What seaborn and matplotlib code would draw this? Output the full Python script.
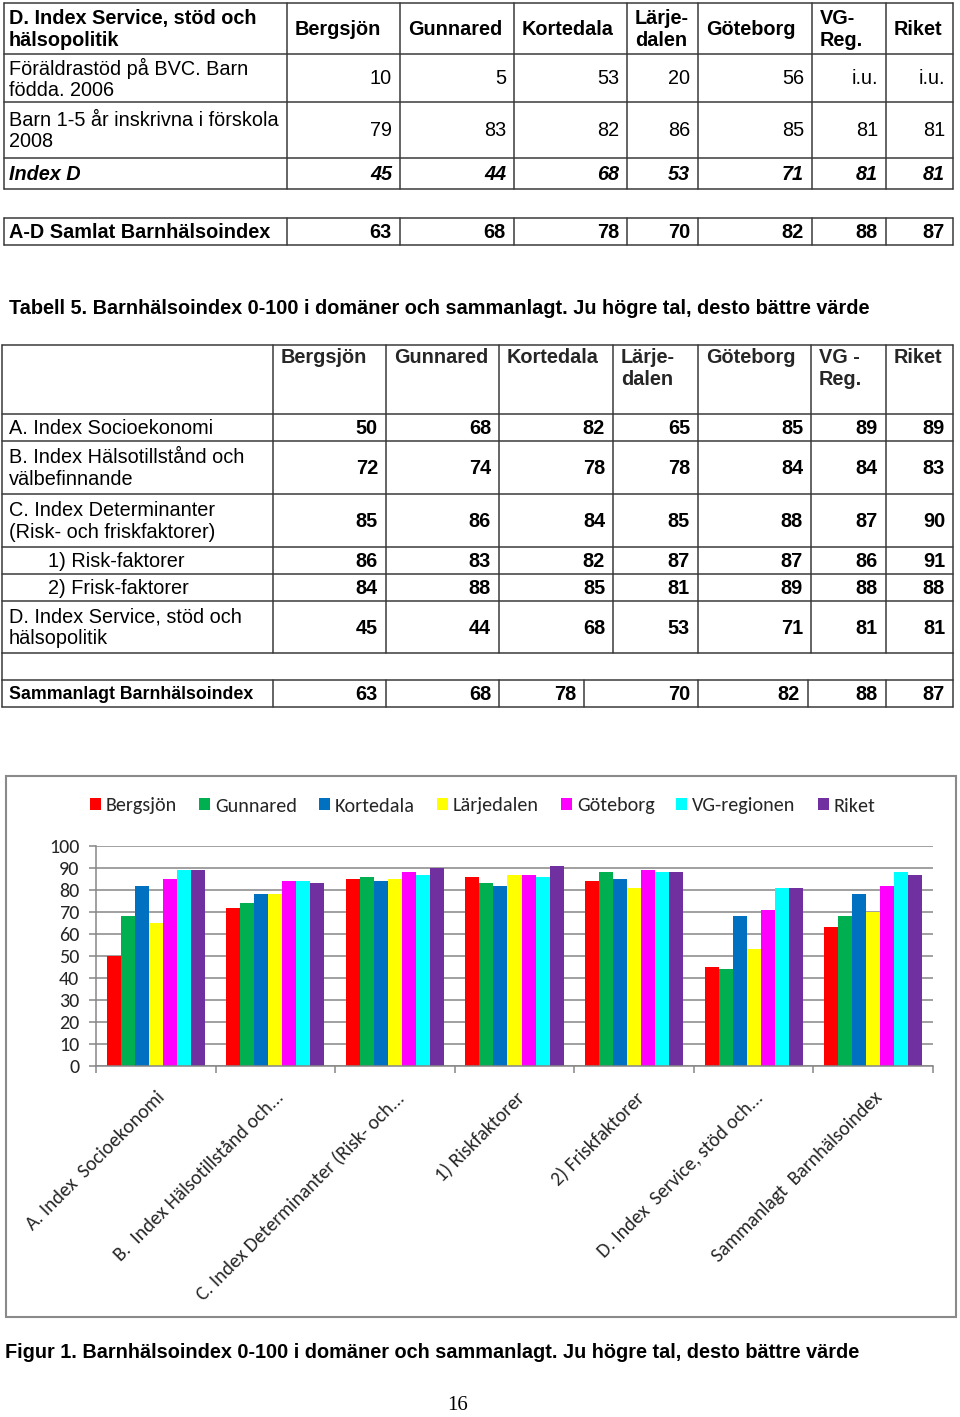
import matplotlib
matplotlib.use("Agg")
import matplotlib.pyplot as plt
from matplotlib.lines import Line2D
from matplotlib.patches import Rectangle
import seaborn as sns
import pandas as pd

# ---------------- data ----------------
regions_top = ["Bergsjön", "Gunnared", "Kortedala", "Lärje-\ndalen", "Göteborg", "VG-\nReg.", "Riket"]
top_header = "D. Index Service, stöd och\nhälsopolitik"
top_row_labels = ["Föräldrastöd på BVC. Barn\nfödda. 2006", "Barn 1-5 år inskrivna i förskola\n2008", "Index D"]
foraldrastod = ["10", "5", "53", "20", "56", "i.u.", "i.u."]
forskola = ["79", "83", "82", "86", "85", "81", "81"]
index_d_top = ["45", "44", "68", "53", "71", "81", "81"]
samlat_label = "A-D Samlat Barnhälsoindex"
samlat_top = ["63", "68", "78", "70", "82", "88", "87"]

table_caption = "Tabell 5. Barnhälsoindex 0-100 i domäner och sammanlagt. Ju högre tal, desto bättre värde"
regions_mid = ["Bergsjön", "Gunnared", "Kortedala", "Lärje-\ndalen", "Göteborg", "VG -\nReg.", "Riket"]
mid_row_labels = ["A. Index Socioekonomi", "B. Index Hälsotillstånd och\nvälbefinnande",
                  "C. Index Determinanter\n(Risk- och friskfaktorer)", "1) Risk-faktorer",
                  "2) Frisk-faktorer", "D. Index Service, stöd och\nhälsopolitik"]
mid_total_label = "Sammanlagt Barnhälsoindex"

categories = ["A. Index  Socioekonomi", "B.  Index Hälsotillstånd och...",
              "C. Index Determinanter (Risk- och...", "1) Riskfaktorer", "2) Friskfaktorer",
              "D. Index  Service, stöd och...", "Sammanlagt  Barnhälsoindex"]
series_names = ["Bergsjön", "Gunnared", "Kortedala", "Lärjedalen", "Göteborg", "VG-regionen", "Riket"]
bergsjon = [50, 72, 85, 86, 84, 45, 63]
gunnared = [68, 74, 86, 83, 88, 44, 68]
kortedala = [82, 78, 84, 82, 85, 68, 78]
larjedalen = [65, 78, 85, 87, 81, 53, 70]
goteborg = [85, 84, 88, 87, 89, 71, 82]
vg_regionen = [89, 84, 87, 86, 88, 81, 88]
riket = [89, 83, 90, 91, 88, 81, 87]
series_values = [bergsjon, gunnared, kortedala, larjedalen, goteborg, vg_regionen, riket]
colors = ["#FF0000", "#00B050", "#0070C0", "#FFFF00", "#FF00FF", "#00FFFF", "#7030A0"]

figure_caption = "Figur 1. Barnhälsoindex 0-100 i domäner och sammanlagt. Ju högre tal, desto bättre värde"
page_number = "16"

# ---------------- figure ----------------
sns.set_theme(style="white")
plt.rcParams["font.family"] = ["Liberation Sans", "DejaVu Sans"]

W, H = 960, 1417
fig = plt.figure(figsize=(W / 100, H / 100), dpi=100)
fig.patch.set_facecolor("white")

def fx(x):
    return x / W

def fy(y):
    return 1 - y / H

LC = "#3a3a3a"
LW = 1.1
LS = 1.17

def hline(x0, x1, y, color=LC, lw=LW):
    fig.add_artist(Line2D([fx(x0), fx(x1)], [fy(y), fy(y)], color=color, lw=lw, transform=fig.transFigure))

def vline(x, y0, y1, color=LC, lw=LW):
    fig.add_artist(Line2D([fx(x), fx(x)], [fy(y0), fy(y1)], color=color, lw=lw, transform=fig.transFigure))

def txt(x, y, s, ha="left", va="center", size=14.3, weight="normal", style="normal", ls=LS, family=None):
    kw = {}
    if family is not None:
        kw["family"] = family
    fig.text(fx(x), fy(y), s, ha=ha, va=va, fontsize=size, fontweight=weight, fontstyle=style,
             linespacing=ls, color="black", **kw)

FS = 14.3

# ---- top table ----
cols_top = [4, 287, 400, 514, 627, 698, 812, 886, 953]
rows_top = [3, 54, 102, 158, 189]
for y in rows_top:
    hline(cols_top[0], cols_top[-1], y)
for x in cols_top:
    vline(x, rows_top[0], rows_top[-1])
txt(9, (rows_top[0] + rows_top[1]) / 2 + 1, top_header, weight="bold", size=FS)
for i, r in enumerate(regions_top):
    txt(cols_top[i + 1] + 8, (rows_top[0] + rows_top[1]) / 2 + 1, r, weight="bold", size=FS)
row_vals = [foraldrastod, forskola, index_d_top]
for j, (lab, vals) in enumerate(zip(top_row_labels, row_vals)):
    yc = (rows_top[j + 1] + rows_top[j + 2]) / 2 + 1
    if j == 2:
        txt(9, yc, lab, weight="bold", style="italic", size=FS)
    else:
        txt(9, yc, lab, size=FS)
    for i, v in enumerate(vals):
        if j == 2:
            txt(cols_top[i + 2] - 8, yc, v, ha="right", weight="bold", style="italic", size=FS)
        else:
            txt(cols_top[i + 2] - 8, yc, v, ha="right", size=FS)

rows_s = [218, 245]
for y in rows_s:
    hline(cols_top[0], cols_top[-1], y)
for x in cols_top:
    vline(x, rows_s[0], rows_s[1])
txt(9, sum(rows_s) / 2 + 1, samlat_label, weight="bold", size=FS)
for i, v in enumerate(samlat_top):
    txt(cols_top[i + 2] - 8, sum(rows_s) / 2 + 1, v, ha="right", weight="bold", size=FS)

# ---- caption ----
txt(9, 308, table_caption, weight="bold", size=FS)

# ---- middle table ----
cols_mid = [2, 273, 386, 499, 613, 698, 811, 886, 953]
cols_last = [2, 273, 386, 499, 584, 698, 808, 886, 953]
rows_mid = [345, 414, 441, 494, 547, 574, 601, 653, 680, 707]
for y in rows_mid:
    hline(cols_mid[0], cols_mid[-1], y)
for x in cols_mid:
    vline(x, rows_mid[0], rows_mid[7])
vline(cols_mid[0], rows_mid[7], rows_mid[8])
vline(cols_mid[-1], rows_mid[7], rows_mid[8])
for x in cols_last:
    vline(x, rows_mid[8], rows_mid[9])
for i, r in enumerate(regions_mid):
    fig.text(fx(cols_mid[i + 1] + 8), fy(rows_mid[0] + 3), r, ha="left", va="top",
             fontsize=FS, fontweight="bold", linespacing=1.2)
for j, lab in enumerate(mid_row_labels):
    yc = (rows_mid[j + 1] + rows_mid[j + 2]) / 2 + 1
    xl = 48 if j in (3, 4) else 9
    txt(xl, yc, lab, size=FS)
    for i in range(7):
        txt(cols_mid[i + 2] - 8, yc, str(series_values[i][j]), ha="right", weight="bold", size=FS)
yc = (rows_mid[8] + rows_mid[9]) / 2 + 1
txt(9, yc, mid_total_label, weight="bold", size=12.8)
for i in range(7):
    txt(cols_last[i + 2] - 8, yc, str(series_values[i][6]), ha="right", weight="bold", size=FS)

# ---- chart ----
fig.add_artist(Rectangle((fx(6), fy(1317)), fx(956) - fx(6), fy(776) - fy(1317),
                         transform=fig.transFigure, fill=False, edgecolor="#8a8a8a", lw=1.5))

rows = []
for s, vals in zip(series_names, series_values):
    for c, v in zip(categories, vals):
        rows.append({"Kategori": c, "Område": s, "Värde": v})
df = pd.DataFrame(rows)

ax = fig.add_axes([fx(96), fy(1066), fx(933) - fx(96), fy(846) - fy(1066)])
chart_font = ["Carlito", "Lato", "DejaVu Sans"]
sns.barplot(data=df, x="Kategori", y="Värde", hue="Område", order=categories, hue_order=series_names,
            palette=colors, saturation=1, width=0.82, gap=0, errorbar=None, ax=ax, linewidth=0)
ax.set_xlim(-0.5, len(categories) - 0.5)
ax.set_ylim(0, 100)
ax.set_yticks(range(0, 101, 10))
ax.set_xlabel("")
ax.set_ylabel("")
ax.set_facecolor("white")
ax.set_axisbelow(True)
ax.yaxis.grid(True, color="#868686", lw=1.1)
ax.xaxis.grid(False)
for side in ["top", "right"]:
    ax.spines[side].set_visible(False)
for side in ["left", "bottom"]:
    ax.spines[side].set_color("#868686")
    ax.spines[side].set_linewidth(1.1)
ax.tick_params(axis="y", length=5, color="#868686", width=1.1, pad=7, left=True)
ax.set_xticks(range(len(categories)))
ax.set_xticks([i - 0.5 for i in range(len(categories) + 1)], minor=True)
ax.tick_params(axis="x", which="major", length=0, pad=16)
ax.tick_params(axis="x", which="minor", length=5, color="#868686", width=1.1, bottom=True)
ax.set_yticklabels([str(t) for t in range(0, 101, 10)], family=chart_font, fontsize=14.5)
ax.set_xticklabels(categories, rotation=45, ha="right", va="top", rotation_mode="anchor",
                   family=chart_font, fontsize=14.2)

handles, labels = ax.get_legend_handles_labels()
ax.legend(handles, labels, ncol=7, loc="center left", bbox_to_anchor=(fx(90), fy(806)),
          bbox_transform=fig.transFigure, frameon=False, prop={"family": chart_font, "size": 14.5},
          handlelength=0.55, handleheight=0.55, handletextpad=0.25, columnspacing=1.08,
          borderaxespad=0, borderpad=0)

txt(5, 1352, figure_caption, weight="bold", size=FS)
txt(458, 1406, page_number, ha="center", size=15, family=["Liberation Serif", "DejaVu Serif"])

fig.savefig("out.png", dpi=100, facecolor="white")
